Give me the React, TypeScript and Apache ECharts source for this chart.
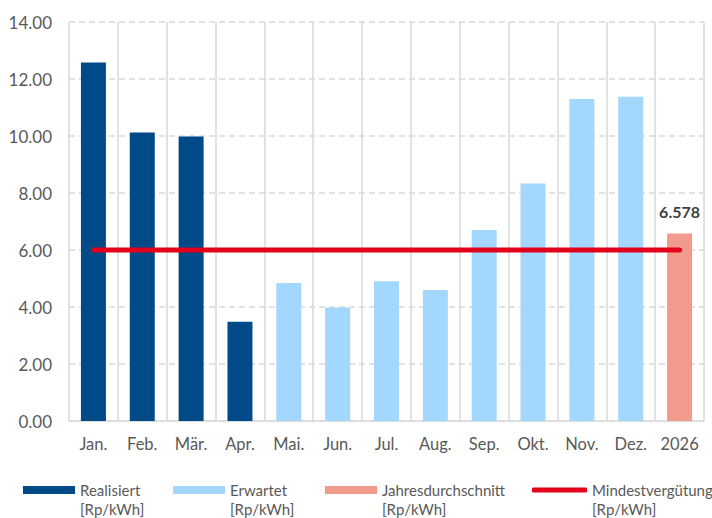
import React, { useEffect, useRef } from "react";
import * as echarts from "echarts";

const categories = ["Jan.", "Feb.", "Mär.", "Apr.", "Mai.", "Jun.", "Jul.", "Aug.", "Sep.", "Okt.", "Nov.", "Dez.", "2026"];
const realisiert = [12.58, 10.12, 9.98, 3.48, null, null, null, null, null, null, null, null, null];
const erwartet = [null, null, null, null, 4.84, 3.98, 4.9, 4.6, 6.7, 8.33, 11.3, 11.38, null];
const jahresdurchschnitt = [null, null, null, null, null, null, null, null, null, null, null, null, 6.578];
const mindestverguetung = [6, 6, 6, 6, 6, 6, 6, 6, 6, 6, 6, 6, 6];
const yTicks = { min: 0, max: 14, interval: 2 };
const unit = "[Rp/kWh]";

const names = {
  r: "Realisiert",
  e: "Erwartet",
  j: "Jahresdurchschnitt",
  m: "Mindestvergütung",
};

const FONT = "Lato";
const TXT = "#595959";

export default function App() {
  const ref = useRef<HTMLDivElement>(null);
  useEffect(() => {
    const chart = echarts.init(ref.current!, null, { renderer: "svg" });
    const LH = 19;
    const legendText = {
      fontFamily: FONT,
      fontSize: 15,
      color: TXT,
      rich: {
        s: { fontSize: 15, lineHeight: LH, fontFamily: FONT, color: TXT },
        a: { fontSize: 15, lineHeight: LH, fontFamily: FONT, color: TXT },
      },
    };
    const mkLegend = (name: string, left: number, icon: string, w: number, h: number) => ({
      data: [name],
      left,
      top: 463.5,
      padding: 0,
      icon,
      itemWidth: w,
      itemHeight: h,
      textStyle: legendText,
      selectedMode: false,
      formatter: (n: string) => `{s| }\n{a|${n}}\n{a|${unit}}`,
    });
    chart.setOption({
      animation: false,
      backgroundColor: "#ffffff",
      textStyle: { fontFamily: FONT },
      grid: { left: 69, right: 8, top: 22, bottom: 97, containLabel: false },
      legend: [
        mkLegend(names.r, 23, "rect", 52, 8),
        mkLegend(names.e, 173, "rect", 52, 8),
        mkLegend(names.j, 325, "rect", 52, 8),
        mkLegend(names.m, 532, "roundRect", 55, 5),
      ],
      xAxis: {
        type: "category",
        data: categories,
        boundaryGap: true,
        axisLine: { show: true, lineStyle: { color: "#d9d9d9", width: 1.5 } },
        axisTick: { show: false, interval: 0 },
        axisLabel: { color: TXT, fontSize: 16.5, fontFamily: FONT, margin: 14, interval: 0, hideOverlap: false },
        splitLine: { show: true, interval: 0, lineStyle: { color: "#d9d9d9", width: 1.5 } },
      },
      yAxis: {
        type: "value",
        min: yTicks.min,
        max: yTicks.max,
        interval: yTicks.interval,
        axisLine: { show: false },
        axisTick: { show: false },
        axisLabel: {
          color: TXT,
          fontSize: 17,
          fontFamily: FONT,
          margin: 17,
          formatter: (v: number) => v.toFixed(2),
        },
        splitLine: { show: true, lineStyle: { color: "#d9d9d9", width: 1.5, type: [6, 4] } },
      },
      series: [
        {
          name: names.r,
          type: "bar",
          stack: "s",
          data: realisiert,
          barWidth: 25,
          itemStyle: { color: "#004b87" },
        },
        {
          name: names.e,
          type: "bar",
          stack: "s",
          data: erwartet,
          barWidth: 25,
          itemStyle: { color: "#a3d7fd" },
        },
        {
          name: names.j,
          type: "bar",
          stack: "s",
          data: jahresdurchschnitt,
          barWidth: 25,
          itemStyle: { color: "#f29a8b" },
          label: {
            show: true,
            position: "top",
            distance: 14,
            fontFamily: FONT,
            fontSize: 16,
            fontWeight: "bold",
            color: "#404040",
            formatter: (p: any) => (p.value == null ? "" : Number(p.value).toFixed(3)),
          },
        },
        {
          name: names.m,
          type: "line",
          data: mindestverguetung,
          symbol: "none",
          z: 10,
          itemStyle: { color: "#e2001a" },
          lineStyle: { color: "#e2001a", width: 5, cap: "round" },
        },
      ],
    });
    return () => chart.dispose();
  }, []);
  return <div ref={ref} style={{ width: 712, height: 518, position: "absolute", left: 0, top: 0 }} />;
}
